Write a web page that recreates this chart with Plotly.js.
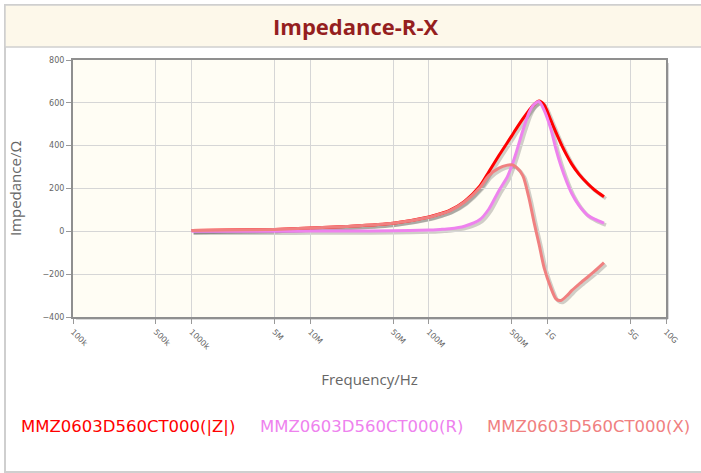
<!DOCTYPE html>
<html>
<head>
<meta charset="utf-8">
<script src="https://cdn.plot.ly/plotly-3.0.1.min.js"></script>
<style>html,body{margin:0;padding:0;background:#fff;}#chart{width:701px;height:473px;}</style>
</head>
<body>
<div id="chart"></div>
<script>
// ---- data ----
const freq = [1e6, 2e6, 5e6, 1e7, 2e7, 5e7, 1e8, 1.25e8, 1.5e8, 2e8, 2.7e8, 3.2e8, 3.9e8, 4.6e8, 5e8, 5.4e8, 6.2e8, 7e8, 7.7e8, 8.5e8, 9.4e8, 1.07e9, 1.18e9, 1.3e9, 1.45e9, 1.6e9, 1.85e9, 2.2e9, 2.5e9, 3e9];
const zMag = [4, 6, 9, 15, 23, 38, 67, 82, 98, 140, 212, 277, 354, 415, 446, 475, 525, 565, 592, 608, 590, 518, 462, 410, 357, 315, 266, 221, 193, 162];
const rVal = [0, 0, 0.5, 1, 1.5, 3, 6, 9, 12, 24, 55, 103, 190, 255, 305, 360, 470, 554, 592, 606, 565, 477, 384, 306, 233, 178, 120, 74, 57, 38];
const xVal = [4, 6, 9, 15, 23, 38, 66, 81, 96, 137, 205, 260, 295, 309, 311, 302, 260, 154, 44, -60, -172, -264, -315, -323, -302, -277, -246, -212, -186, -146];
const seriesNames = ['MMZ0603D560CT000(|Z|)', 'MMZ0603D560CT000(R)', 'MMZ0603D560CT000(X)'];
const seriesColors = ['#ff0000', '#ee82ee', '#f08080'];
const xTickVals = [1e5, 5e5, 1e6, 5e6, 1e7, 5e7, 1e8, 5e8, 1e9, 5e9, 1e10];
const xTickText = ['100k', '500k', '1000k', '5M', '10M', '50M', '100M', '500M', '1G', '5G', '10G'];
const yTickVals = [-400, -200, 0, 200, 400, 600, 800];
const chartTitle = 'Impedance-R-X';
const xTitle = 'Frequency/Hz';
const yTitle = 'Impedance/Ω';

// ---- layout geometry ----
const W = 701, H = 473;
const L = 73, PW = 593, T = 60, PH = 257, SH = 2;
const R = W - L - PW - SH, B = H - T - PH - SH;
const px = x => (x - L) / (PW + SH);
const py = y => (H - B - y) / (PH + SH);

const ys = [zMag, rVal, xVal];
const traces = [];
// soft drop shadows (drawn in a subplot offset by a couple of pixels)
ys.forEach((v) => {
  traces.push({x: freq, y: v, xaxis: 'x', yaxis: 'y', mode: 'lines', hoverinfo: 'skip',
    line: {color: 'rgba(40,40,40,0.22)', width: 3.5, shape: 'spline', smoothing: 0.7}, showlegend: false});
});
ys.forEach((v, i) => {
  traces.push({x: freq, y: v, xaxis: 'x2', yaxis: 'y2', mode: 'lines', name: seriesNames[i],
    line: {color: seriesColors[i], width: 3, shape: 'spline', smoothing: 0.7}, showlegend: false});
});

const tickFont = {family: 'DejaVu Sans', size: 8, color: '#666'};
const layout = {
  width: W, height: H,
  margin: {l: L, r: R, t: T, b: B, pad: 0},
  paper_bgcolor: '#ffffff',
  plot_bgcolor: 'rgba(0,0,0,0)',
  showlegend: false,
  xaxis: {type: 'log', range: [5, 10], domain: [SH / (PW + SH), 1], anchor: 'y',
    visible: false, fixedrange: true},
  yaxis: {range: [-400, 800], domain: [0, PH / (PH + SH)], anchor: 'x',
    visible: false, fixedrange: true},
  xaxis2: {
    type: 'log', range: [5, 10], domain: [0, PW / (PW + SH)], anchor: 'y2',
    tickvals: xTickVals, ticktext: xTickText, tickangle: 45,
    tickfont: tickFont, ticks: 'outside', ticklen: 5, tickcolor: '#999',
    showgrid: true, gridcolor: '#d6d6d6', gridwidth: 1,
    showline: true, linecolor: '#8f8f8f', linewidth: 2, mirror: true,
    zeroline: false, fixedrange: true,
    title: {text: xTitle, font: {family: 'Open Sans', size: 15, color: '#666'}, standoff: 24}
  },
  yaxis2: {
    range: [-400, 800], domain: [SH / (PH + SH), 1], anchor: 'x2',
    tickvals: yTickVals, tickfont: tickFont, ticks: 'outside', ticklen: 5, tickcolor: '#999',
    showgrid: true, gridcolor: '#d6d6d6', gridwidth: 1,
    showline: true, linecolor: '#8f8f8f', linewidth: 2, mirror: true,
    zeroline: false, fixedrange: true,
    title: {text: yTitle, font: {family: 'Open Sans', size: 15, color: '#666'}, standoff: 17}
  },
  shapes: [
    // outer frame
    {type: 'rect', xref: 'paper', yref: 'paper', x0: px(5), x1: px(702), y0: py(472), y1: py(5),
      line: {color: '#cfcfcf', width: 2}, fillcolor: 'rgba(0,0,0,0)', layer: 'below'},
    // title band
    {type: 'rect', xref: 'paper', yref: 'paper', x0: px(5), x1: px(702), y0: py(47), y1: py(5),
      line: {color: '#d0d0d0', width: 1.5}, fillcolor: '#fdf8ea', layer: 'below'},
    // plot background
    {type: 'rect', xref: 'paper', yref: 'paper', x0: px(73), x1: px(666), y0: py(317), y1: py(60),
      line: {width: 0}, fillcolor: '#fffdf4', layer: 'below'},
    // frame shadow
    {type: 'line', xref: 'paper', yref: 'paper', x0: px(668), x1: px(668), y0: py(319), y1: py(63),
      line: {color: 'rgba(0,0,0,0.15)', width: 2}, layer: 'below'},
    {type: 'line', xref: 'paper', yref: 'paper', x0: px(76), x1: px(668), y0: py(319), y1: py(319),
      line: {color: 'rgba(0,0,0,0.15)', width: 2}, layer: 'below'}
  ],
  annotations: [
    {text: '<b>' + chartTitle + '</b>', xref: 'paper', yref: 'paper', x: px(355), y: py(26),
      showarrow: false, font: {family: 'Open Sans', size: 22, color: '#951f1f'}, xanchor: 'center', yanchor: 'middle'},
    {text: seriesNames[0], xref: 'paper', yref: 'paper', x: px(19), y: py(426), showarrow: false,
      xanchor: 'left', yanchor: 'middle', font: {family: 'DejaVu Sans', size: 16.5, color: seriesColors[0]}},
    {text: seriesNames[1], xref: 'paper', yref: 'paper', x: px(258), y: py(426), showarrow: false,
      xanchor: 'left', yanchor: 'middle', font: {family: 'DejaVu Sans', size: 16.5, color: seriesColors[1]}},
    {text: seriesNames[2], xref: 'paper', yref: 'paper', x: px(485), y: py(426), showarrow: false,
      xanchor: 'left', yanchor: 'middle', font: {family: 'DejaVu Sans', size: 16.5, color: seriesColors[2]}}
  ]
};

Plotly.newPlot('chart', traces, layout, {displayModeBar: false, staticPlot: true});
</script>
</body>
</html>
